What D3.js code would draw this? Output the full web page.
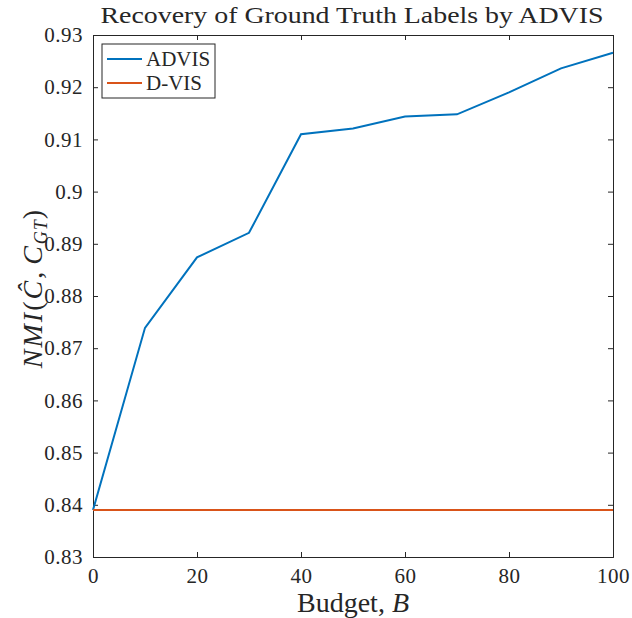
<!DOCTYPE html>
<html>
<head>
<meta charset="utf-8">
<script src="https://cdn.jsdelivr.net/npm/d3@7"></script>
<style>
  body { margin: 0; background: #fff; }
  text { font-family: "Liberation Serif", "DejaVu Serif", serif; fill: #262626; }
</style>
</head>
<body>
<div id="chart"></div>
<script>
// data
const budget = [0, 10, 20, 30, 40, 50, 60, 70, 80, 90, 100];
const advis = [0.839, 0.8739, 0.8874, 0.8921, 0.9110, 0.9121, 0.9144, 0.9148, 0.9190, 0.9236, 0.9266];
const dvis = [0.839, 0.839, 0.839, 0.839, 0.839, 0.839, 0.839, 0.839, 0.839, 0.839, 0.839];
const xTicks = [0, 20, 40, 60, 80, 100];
const yTicks = [0.83, 0.84, 0.85, 0.86, 0.87, 0.88, 0.89, 0.9, 0.91, 0.92, 0.93];

const W = 632, H = 618;
const margin = { top: 35, right: 19, bottom: 61, left: 93 };
const width = W - margin.left - margin.right;
const height = H - margin.top - margin.bottom;

const svg = d3.select("#chart").append("svg")
    .attr("width", W)
    .attr("height", H);

const g = svg.append("g")
    .attr("transform", "translate(" + margin.left + "," + margin.top + ")");

const x = d3.scaleLinear().domain([0, 100]).range([0, width]);
const y = d3.scaleLinear().domain([0.83, 0.93]).range([height, 0]);

const tickLen = 5;

// axes (ticks pointing inward, box on)
const xAxis = g.append("g")
    .attr("transform", "translate(0," + height + ")")
    .call(d3.axisBottom(x).tickValues(xTicks).tickSize(-tickLen).tickPadding(11).tickFormat(d3.format("d")));
const xTop = g.append("g")
    .call(d3.axisTop(x).tickValues(xTicks).tickSize(-tickLen).tickFormat(""));
const yAxis = g.append("g")
    .call(d3.axisLeft(y).tickValues(yTicks).tickSize(-tickLen).tickPadding(10).tickFormat(d => String(+d.toFixed(2))));
const yRight = g.append("g")
    .attr("transform", "translate(" + width + ",0)")
    .call(d3.axisRight(y).tickValues(yTicks).tickSize(-tickLen).tickFormat(""));

[xAxis, xTop, yAxis, yRight].forEach(a => {
    a.attr("font-family", "Liberation Serif").attr("font-size", 21);
    a.select(".domain").attr("stroke", "#262626").attr("stroke-width", 1);
    a.selectAll(".tick line").attr("stroke", "#262626");
    a.selectAll(".tick text").attr("fill", "#262626").style("letter-spacing", "0.5px");
});

// lines
const line = d3.line()
    .x((d, i) => x(budget[i]))
    .y(d => y(d));

g.append("path")
    .datum(advis)
    .attr("fill", "none")
    .attr("stroke", "#0072BD")
    .attr("stroke-width", 2)
    .attr("d", line);

g.append("path")
    .datum(dvis)
    .attr("fill", "none")
    .attr("stroke", "#D95319")
    .attr("stroke-width", 2)
    .attr("d", line);

// title
svg.append("text")
    .attr("x", 352)
    .attr("y", 23)
    .attr("text-anchor", "middle")
    .attr("textLength", 503)
    .attr("lengthAdjust", "spacingAndGlyphs")
    .style("font-size", "24px")
    .text("Recovery of Ground Truth Labels by ADVIS");

// x label
const xl = svg.append("text")
    .attr("x", margin.left + width / 2)
    .attr("y", 612)
    .attr("text-anchor", "middle")
    .style("font-size", "28px");
xl.append("tspan").text("Budget, ");
xl.append("tspan").style("font-style", "italic").text("B");

// y label
const yl = svg.append("text")
    .attr("transform", "translate(42," + (margin.top + height / 2 - 8) + ") rotate(-90)")
    .attr("text-anchor", "middle")
    .style("font-size", "28px")
    .style("font-style", "italic")
    .style("letter-spacing", "2px");
yl.append("tspan").text("NMI");
yl.append("tspan").style("font-style", "normal").text("(");
yl.append("tspan").text("C\u0302");
yl.append("tspan").style("font-style", "normal").text(",");
yl.append("tspan").attr("dx", 5).text("C");
yl.append("tspan").attr("dy", 5).style("font-size", "18px").style("letter-spacing", "1px").text("GT");
yl.append("tspan").attr("dy", -5).style("font-style", "normal").text(")");

// legend
const legendData = [
    { name: "ADVIS", color: "#0072BD" },
    { name: "D-VIS", color: "#D95319" }
];
const lg = g.append("g").attr("transform", "translate(9,9)");
lg.append("rect")
    .attr("width", 113)
    .attr("height", 54)
    .attr("fill", "#fff")
    .attr("stroke", "#262626")
    .attr("stroke-width", 1);
const items = lg.selectAll(".legend-item")
    .data(legendData)
  .enter().append("g")
    .attr("class", "legend-item")
    .attr("transform", (d, i) => "translate(0," + (15 + i * 24) + ")");
items.append("line")
    .attr("x1", 5).attr("x2", 40)
    .attr("stroke", d => d.color)
    .attr("stroke-width", 2);
items.append("text")
    .attr("x", 44)
    .attr("dy", "0.35em")
    .style("font-size", "21px")
    .text(d => d.name);
</script>
</body>
</html>
